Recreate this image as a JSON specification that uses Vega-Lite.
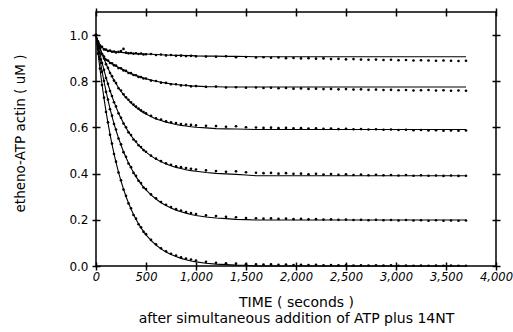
{
"$schema": "https://vega.github.io/schema/vega-lite/v6.json",
"width": 400, "height": 254, "autosize": "none",
"padding": {"left": 96, "top": 12, "right": 17, "bottom": 66},
"background": "white",
"config": {"view": {"stroke": "black", "strokeWidth": 1.5}, "font": "DejaVu Sans"},
"data": {"values": [
{"c":1,"t":0,"y":1.0,"f":1.0},{"c":1,"t":20,"y":0.972,"f":0.975},{"c":1,"t":40,"y":0.955,"f":0.958},{"c":1,"t":60,"y":0.949,"f":0.947},{"c":1,"t":80,"y":0.938,"f":0.94},{"c":1,"t":100,"y":0.937,"f":0.936},{"c":1,"t":120,"y":0.931,"f":0.933},{"c":1,"t":140,"y":0.933,"f":0.931},{"c":1,"t":160,"y":0.928,"f":0.929},{"c":1,"t":180,"y":0.929,"f":0.928},{"c":1,"t":200,"y":0.925,"f":0.927},{"c":1,"t":225,"y":0.927,"f":0.926},{"c":1,"t":250,"y":0.931,"f":0.925},{"c":1,"t":275,"y":0.94,"f":0.924},{"c":1,"t":300,"y":0.924,"f":0.923},{"c":1,"t":325,"y":0.921,"f":0.922},{"c":1,"t":350,"y":0.922,"f":0.921},{"c":1,"t":375,"y":0.919,"f":0.921},{"c":1,"t":400,"y":0.921,"f":0.92},{"c":1,"t":425,"y":0.918,"f":0.919},{"c":1,"t":450,"y":0.92,"f":0.919},{"c":1,"t":475,"y":0.916,"f":0.918},{"c":1,"t":500,"y":0.917,"f":0.918},{"c":1,"t":550,"y":0.918,"f":0.917},{"c":1,"t":600,"y":0.914,"f":0.916},{"c":1,"t":650,"y":0.916,"f":0.915},{"c":1,"t":700,"y":0.912,"f":0.914},{"c":1,"t":750,"y":0.914,"f":0.913},{"c":1,"t":800,"y":0.91,"f":0.912},{"c":1,"t":850,"y":0.911,"f":0.912},{"c":1,"t":900,"y":0.909,"f":0.911},{"c":1,"t":950,"y":0.91,"f":0.911},{"c":1,"t":1000,"y":0.908,"f":0.91},{"c":1,"t":1100,"y":0.907,"f":0.909},{"c":1,"t":1200,"y":0.906,"f":0.909},{"c":1,"t":1300,"y":0.908,"f":0.908},{"c":1,"t":1400,"y":0.904,"f":0.908},{"c":1,"t":1500,"y":0.905,"f":0.907},{"c":1,"t":1600,"y":0.903,"f":0.906},{"c":1,"t":1675,"y":0.904,"f":0.906},{"c":1,"t":1750,"y":0.902,"f":0.906},{"c":1,"t":1825,"y":0.903,"f":0.906},{"c":1,"t":1900,"y":0.9,"f":0.906},{"c":1,"t":1975,"y":0.901,"f":0.906},{"c":1,"t":2050,"y":0.899,"f":0.906},{"c":1,"t":2125,"y":0.9,"f":0.906},{"c":1,"t":2200,"y":0.898,"f":0.906},{"c":1,"t":2275,"y":0.899,"f":0.906},{"c":1,"t":2350,"y":0.896,"f":0.906},{"c":1,"t":2425,"y":0.897,"f":0.906},{"c":1,"t":2500,"y":0.895,"f":0.906},{"c":1,"t":2575,"y":0.896,"f":0.906},{"c":1,"t":2650,"y":0.894,"f":0.906},{"c":1,"t":2725,"y":0.893,"f":0.906},{"c":1,"t":2800,"y":0.894,"f":0.906},{"c":1,"t":2875,"y":0.892,"f":0.906},{"c":1,"t":2950,"y":0.893,"f":0.906},{"c":1,"t":3025,"y":0.891,"f":0.906},{"c":1,"t":3100,"y":0.892,"f":0.906},{"c":1,"t":3175,"y":0.89,"f":0.906},{"c":1,"t":3250,"y":0.891,"f":0.906},{"c":1,"t":3325,"y":0.89,"f":0.906},{"c":1,"t":3400,"y":0.889,"f":0.906},{"c":1,"t":3475,"y":0.89,"f":0.906},{"c":1,"t":3550,"y":0.889,"f":0.906},{"c":1,"t":3625,"y":0.888,"f":0.906},{"c":1,"t":3700,"y":0.889,"f":0.906},
{"c":2,"t":0,"y":1.0,"f":1.0},{"c":2,"t":20,"y":0.962,"f":0.965},{"c":2,"t":40,"y":0.943,"f":0.94},{"c":2,"t":60,"y":0.917,"f":0.92},{"c":2,"t":80,"y":0.907,"f":0.905},{"c":2,"t":100,"y":0.893,"f":0.895},{"c":2,"t":120,"y":0.89,"f":0.888},{"c":2,"t":140,"y":0.879,"f":0.882},{"c":2,"t":160,"y":0.878,"f":0.876},{"c":2,"t":180,"y":0.869,"f":0.871},{"c":2,"t":200,"y":0.868,"f":0.866},{"c":2,"t":225,"y":0.857,"f":0.86},{"c":2,"t":250,"y":0.856,"f":0.854},{"c":2,"t":275,"y":0.847,"f":0.849},{"c":2,"t":300,"y":0.845,"f":0.843},{"c":2,"t":325,"y":0.836,"f":0.838},{"c":2,"t":350,"y":0.835,"f":0.833},{"c":2,"t":375,"y":0.827,"f":0.829},{"c":2,"t":400,"y":0.826,"f":0.825},{"c":2,"t":425,"y":0.819,"f":0.821},{"c":2,"t":450,"y":0.818,"f":0.817},{"c":2,"t":475,"y":0.812,"f":0.814},{"c":2,"t":500,"y":0.812,"f":0.811},{"c":2,"t":550,"y":0.803,"f":0.805},{"c":2,"t":600,"y":0.801,"f":0.8},{"c":2,"t":650,"y":0.794,"f":0.796},{"c":2,"t":700,"y":0.793,"f":0.792},{"c":2,"t":750,"y":0.787,"f":0.789},{"c":2,"t":800,"y":0.787,"f":0.786},{"c":2,"t":850,"y":0.782,"f":0.784},{"c":2,"t":900,"y":0.783,"f":0.782},{"c":2,"t":950,"y":0.778,"f":0.78},{"c":2,"t":1000,"y":0.779,"f":0.779},{"c":2,"t":1100,"y":0.776,"f":0.777},{"c":2,"t":1200,"y":0.777,"f":0.776},{"c":2,"t":1300,"y":0.773,"f":0.775},{"c":2,"t":1400,"y":0.774,"f":0.775},{"c":2,"t":1500,"y":0.772,"f":0.775},{"c":2,"t":1600,"y":0.773,"f":0.775},{"c":2,"t":1675,"y":0.771,"f":0.775},{"c":2,"t":1750,"y":0.772,"f":0.775},{"c":2,"t":1825,"y":0.77,"f":0.775},{"c":2,"t":1900,"y":0.771,"f":0.775},{"c":2,"t":1975,"y":0.768,"f":0.775},{"c":2,"t":2050,"y":0.769,"f":0.775},{"c":2,"t":2125,"y":0.767,"f":0.775},{"c":2,"t":2200,"y":0.768,"f":0.775},{"c":2,"t":2275,"y":0.766,"f":0.775},{"c":2,"t":2350,"y":0.767,"f":0.775},{"c":2,"t":2425,"y":0.765,"f":0.775},{"c":2,"t":2500,"y":0.766,"f":0.775},{"c":2,"t":2575,"y":0.764,"f":0.775},{"c":2,"t":2650,"y":0.765,"f":0.775},{"c":2,"t":2725,"y":0.763,"f":0.775},{"c":2,"t":2800,"y":0.764,"f":0.775},{"c":2,"t":2875,"y":0.762,"f":0.775},{"c":2,"t":2950,"y":0.763,"f":0.775},{"c":2,"t":3025,"y":0.761,"f":0.775},{"c":2,"t":3100,"y":0.762,"f":0.775},{"c":2,"t":3175,"y":0.76,"f":0.775},{"c":2,"t":3250,"y":0.761,"f":0.775},{"c":2,"t":3325,"y":0.762,"f":0.775},{"c":2,"t":3400,"y":0.76,"f":0.775},{"c":2,"t":3475,"y":0.761,"f":0.775},{"c":2,"t":3550,"y":0.759,"f":0.775},{"c":2,"t":3625,"y":0.76,"f":0.775},{"c":2,"t":3700,"y":0.759,"f":0.775},
{"c":3,"t":0,"y":1.0,"f":1.0},{"c":3,"t":20,"y":0.97,"f":0.972},{"c":3,"t":40,"y":0.947,"f":0.945},{"c":3,"t":60,"y":0.918,"f":0.92},{"c":3,"t":80,"y":0.899,"f":0.897},{"c":3,"t":100,"y":0.874,"f":0.876},{"c":3,"t":120,"y":0.858,"f":0.856},{"c":3,"t":140,"y":0.836,"f":0.838},{"c":3,"t":160,"y":0.822,"f":0.82},{"c":3,"t":180,"y":0.803,"f":0.805},{"c":3,"t":200,"y":0.792,"f":0.79},{"c":3,"t":225,"y":0.77,"f":0.772},{"c":3,"t":250,"y":0.76,"f":0.757},{"c":3,"t":275,"y":0.744,"f":0.742},{"c":3,"t":300,"y":0.731,"f":0.729},{"c":3,"t":325,"y":0.72,"f":0.717},{"c":3,"t":350,"y":0.709,"f":0.706},{"c":3,"t":375,"y":0.699,"f":0.696},{"c":3,"t":400,"y":0.69,"f":0.687},{"c":3,"t":425,"y":0.682,"f":0.679},{"c":3,"t":450,"y":0.674,"f":0.671},{"c":3,"t":475,"y":0.667,"f":0.664},{"c":3,"t":500,"y":0.661,"f":0.658},{"c":3,"t":550,"y":0.65,"f":0.647},{"c":3,"t":600,"y":0.64,"f":0.637},{"c":3,"t":650,"y":0.634,"f":0.63},{"c":3,"t":700,"y":0.627,"f":0.623},{"c":3,"t":750,"y":0.622,"f":0.618},{"c":3,"t":800,"y":0.619,"f":0.613},{"c":3,"t":850,"y":0.615,"f":0.609},{"c":3,"t":900,"y":0.613,"f":0.606},{"c":3,"t":950,"y":0.611,"f":0.603},{"c":3,"t":1000,"y":0.609,"f":0.601},{"c":3,"t":1100,"y":0.607,"f":0.598},{"c":3,"t":1200,"y":0.606,"f":0.595},{"c":3,"t":1300,"y":0.603,"f":0.594},{"c":3,"t":1400,"y":0.605,"f":0.593},{"c":3,"t":1500,"y":0.601,"f":0.592},{"c":3,"t":1600,"y":0.6,"f":0.591},{"c":3,"t":1675,"y":0.598,"f":0.591},{"c":3,"t":1750,"y":0.599,"f":0.591},{"c":3,"t":1825,"y":0.597,"f":0.591},{"c":3,"t":1900,"y":0.598,"f":0.591},{"c":3,"t":1975,"y":0.596,"f":0.591},{"c":3,"t":2050,"y":0.597,"f":0.591},{"c":3,"t":2125,"y":0.595,"f":0.591},{"c":3,"t":2200,"y":0.596,"f":0.591},{"c":3,"t":2275,"y":0.594,"f":0.591},{"c":3,"t":2350,"y":0.595,"f":0.591},{"c":3,"t":2425,"y":0.593,"f":0.591},{"c":3,"t":2500,"y":0.594,"f":0.591},{"c":3,"t":2575,"y":0.592,"f":0.591},{"c":3,"t":2650,"y":0.593,"f":0.591},{"c":3,"t":2725,"y":0.591,"f":0.591},{"c":3,"t":2800,"y":0.592,"f":0.591},{"c":3,"t":2875,"y":0.59,"f":0.591},{"c":3,"t":2950,"y":0.591,"f":0.591},{"c":3,"t":3025,"y":0.589,"f":0.591},{"c":3,"t":3100,"y":0.59,"f":0.591},{"c":3,"t":3175,"y":0.588,"f":0.591},{"c":3,"t":3250,"y":0.589,"f":0.591},{"c":3,"t":3325,"y":0.587,"f":0.591},{"c":3,"t":3400,"y":0.588,"f":0.591},{"c":3,"t":3475,"y":0.586,"f":0.591},{"c":3,"t":3550,"y":0.587,"f":0.591},{"c":3,"t":3625,"y":0.586,"f":0.591},{"c":3,"t":3700,"y":0.587,"f":0.591},
{"c":4,"t":0,"y":1.0,"f":1.0},{"c":4,"t":20,"y":0.955,"f":0.958},{"c":4,"t":40,"y":0.921,"f":0.919},{"c":4,"t":60,"y":0.879,"f":0.882},{"c":4,"t":80,"y":0.85,"f":0.848},{"c":4,"t":100,"y":0.814,"f":0.817},{"c":4,"t":120,"y":0.789,"f":0.787},{"c":4,"t":140,"y":0.758,"f":0.76},{"c":4,"t":160,"y":0.736,"f":0.734},{"c":4,"t":180,"y":0.709,"f":0.711},{"c":4,"t":200,"y":0.691,"f":0.689},{"c":4,"t":225,"y":0.661,"f":0.663},{"c":4,"t":250,"y":0.642,"f":0.64},{"c":4,"t":275,"y":0.617,"f":0.619},{"c":4,"t":300,"y":0.601,"f":0.599},{"c":4,"t":325,"y":0.579,"f":0.581},{"c":4,"t":350,"y":0.567,"f":0.565},{"c":4,"t":375,"y":0.548,"f":0.55},{"c":4,"t":400,"y":0.539,"f":0.537},{"c":4,"t":425,"y":0.523,"f":0.524},{"c":4,"t":450,"y":0.515,"f":0.513},{"c":4,"t":475,"y":0.502,"f":0.503},{"c":4,"t":500,"y":0.495,"f":0.493},{"c":4,"t":550,"y":0.478,"f":0.477},{"c":4,"t":600,"y":0.465,"f":0.463},{"c":4,"t":650,"y":0.454,"f":0.452},{"c":4,"t":700,"y":0.445,"f":0.442},{"c":4,"t":750,"y":0.438,"f":0.434},{"c":4,"t":800,"y":0.432,"f":0.427},{"c":4,"t":850,"y":0.428,"f":0.422},{"c":4,"t":900,"y":0.424,"f":0.417},{"c":4,"t":950,"y":0.421,"f":0.413},{"c":4,"t":1000,"y":0.418,"f":0.41},{"c":4,"t":1100,"y":0.414,"f":0.405},{"c":4,"t":1200,"y":0.411,"f":0.401},{"c":4,"t":1300,"y":0.408,"f":0.399},{"c":4,"t":1400,"y":0.41,"f":0.397},{"c":4,"t":1500,"y":0.406,"f":0.394},{"c":4,"t":1600,"y":0.404,"f":0.391},{"c":4,"t":1675,"y":0.402,"f":0.391},{"c":4,"t":1750,"y":0.403,"f":0.391},{"c":4,"t":1825,"y":0.4,"f":0.391},{"c":4,"t":1900,"y":0.402,"f":0.391},{"c":4,"t":1975,"y":0.399,"f":0.391},{"c":4,"t":2050,"y":0.4,"f":0.391},{"c":4,"t":2125,"y":0.397,"f":0.391},{"c":4,"t":2200,"y":0.399,"f":0.391},{"c":4,"t":2275,"y":0.396,"f":0.391},{"c":4,"t":2350,"y":0.398,"f":0.391},{"c":4,"t":2425,"y":0.395,"f":0.391},{"c":4,"t":2500,"y":0.397,"f":0.391},{"c":4,"t":2575,"y":0.394,"f":0.391},{"c":4,"t":2650,"y":0.396,"f":0.391},{"c":4,"t":2725,"y":0.393,"f":0.391},{"c":4,"t":2800,"y":0.395,"f":0.391},{"c":4,"t":2875,"y":0.393,"f":0.391},{"c":4,"t":2950,"y":0.394,"f":0.391},{"c":4,"t":3025,"y":0.392,"f":0.391},{"c":4,"t":3100,"y":0.394,"f":0.391},{"c":4,"t":3175,"y":0.391,"f":0.391},{"c":4,"t":3250,"y":0.393,"f":0.391},{"c":4,"t":3325,"y":0.391,"f":0.391},{"c":4,"t":3400,"y":0.392,"f":0.391},{"c":4,"t":3475,"y":0.39,"f":0.391},{"c":4,"t":3550,"y":0.392,"f":0.391},{"c":4,"t":3625,"y":0.39,"f":0.391},{"c":4,"t":3700,"y":0.391,"f":0.391},
{"c":5,"t":0,"y":1.0,"f":1.0},{"c":5,"t":20,"y":0.941,"f":0.944},{"c":5,"t":40,"y":0.895,"f":0.892},{"c":5,"t":60,"y":0.841,"f":0.844},{"c":5,"t":80,"y":0.802,"f":0.799},{"c":5,"t":100,"y":0.754,"f":0.757},{"c":5,"t":120,"y":0.721,"f":0.718},{"c":5,"t":140,"y":0.679,"f":0.682},{"c":5,"t":160,"y":0.651,"f":0.648},{"c":5,"t":180,"y":0.615,"f":0.617},{"c":5,"t":200,"y":0.591,"f":0.588},{"c":5,"t":225,"y":0.552,"f":0.554},{"c":5,"t":250,"y":0.527,"f":0.524},{"c":5,"t":275,"y":0.493,"f":0.495},{"c":5,"t":300,"y":0.473,"f":0.47},{"c":5,"t":325,"y":0.444,"f":0.446},{"c":5,"t":350,"y":0.428,"f":0.425},{"c":5,"t":375,"y":0.403,"f":0.405},{"c":5,"t":400,"y":0.39,"f":0.387},{"c":5,"t":425,"y":0.369,"f":0.371},{"c":5,"t":450,"y":0.359,"f":0.356},{"c":5,"t":475,"y":0.34,"f":0.342},{"c":5,"t":500,"y":0.333,"f":0.33},{"c":5,"t":550,"y":0.31,"f":0.308},{"c":5,"t":600,"y":0.293,"f":0.29},{"c":5,"t":650,"y":0.277,"f":0.274},{"c":5,"t":700,"y":0.265,"f":0.262},{"c":5,"t":750,"y":0.255,"f":0.251},{"c":5,"t":800,"y":0.246,"f":0.242},{"c":5,"t":850,"y":0.24,"f":0.235},{"c":5,"t":900,"y":0.234,"f":0.229},{"c":5,"t":950,"y":0.229,"f":0.223},{"c":5,"t":1000,"y":0.225,"f":0.219},{"c":5,"t":1100,"y":0.219,"f":0.212},{"c":5,"t":1200,"y":0.216,"f":0.208},{"c":5,"t":1300,"y":0.213,"f":0.205},{"c":5,"t":1400,"y":0.211,"f":0.202},{"c":5,"t":1500,"y":0.208,"f":0.201},{"c":5,"t":1600,"y":0.207,"f":0.199},{"c":5,"t":1675,"y":0.205,"f":0.199},{"c":5,"t":1750,"y":0.206,"f":0.199},{"c":5,"t":1825,"y":0.204,"f":0.199},{"c":5,"t":1900,"y":0.205,"f":0.199},{"c":5,"t":1975,"y":0.203,"f":0.199},{"c":5,"t":2050,"y":0.204,"f":0.199},{"c":5,"t":2125,"y":0.202,"f":0.199},{"c":5,"t":2200,"y":0.203,"f":0.199},{"c":5,"t":2275,"y":0.201,"f":0.199},{"c":5,"t":2350,"y":0.202,"f":0.199},{"c":5,"t":2425,"y":0.2,"f":0.199},{"c":5,"t":2500,"y":0.201,"f":0.199},{"c":5,"t":2575,"y":0.199,"f":0.199},{"c":5,"t":2650,"y":0.2,"f":0.199},{"c":5,"t":2725,"y":0.198,"f":0.199},{"c":5,"t":2800,"y":0.2,"f":0.199},{"c":5,"t":2875,"y":0.198,"f":0.199},{"c":5,"t":2950,"y":0.199,"f":0.199},{"c":5,"t":3025,"y":0.197,"f":0.199},{"c":5,"t":3100,"y":0.199,"f":0.199},{"c":5,"t":3175,"y":0.197,"f":0.199},{"c":5,"t":3250,"y":0.198,"f":0.199},{"c":5,"t":3325,"y":0.196,"f":0.199},{"c":5,"t":3400,"y":0.198,"f":0.199},{"c":5,"t":3475,"y":0.196,"f":0.199},{"c":5,"t":3550,"y":0.197,"f":0.199},{"c":5,"t":3625,"y":0.196,"f":0.199},{"c":5,"t":3700,"y":0.197,"f":0.199},
{"c":6,"t":0,"y":1.0,"f":1.0},{"c":6,"t":20,"y":0.92,"f":0.923},{"c":6,"t":40,"y":0.855,"f":0.852},{"c":6,"t":60,"y":0.784,"f":0.787},{"c":6,"t":80,"y":0.729,"f":0.726},{"c":6,"t":100,"y":0.667,"f":0.67},{"c":6,"t":120,"y":0.622,"f":0.619},{"c":6,"t":140,"y":0.568,"f":0.571},{"c":6,"t":160,"y":0.53,"f":0.527},{"c":6,"t":180,"y":0.485,"f":0.487},{"c":6,"t":200,"y":0.452,"f":0.449},{"c":6,"t":225,"y":0.405,"f":0.407},{"c":6,"t":250,"y":0.371,"f":0.368},{"c":6,"t":275,"y":0.331,"f":0.333},{"c":6,"t":300,"y":0.304,"f":0.301},{"c":6,"t":325,"y":0.271,"f":0.273},{"c":6,"t":350,"y":0.25,"f":0.247},{"c":6,"t":375,"y":0.221,"f":0.223},{"c":6,"t":400,"y":0.205,"f":0.202},{"c":6,"t":425,"y":0.181,"f":0.183},{"c":6,"t":450,"y":0.168,"f":0.165},{"c":6,"t":475,"y":0.148,"f":0.15},{"c":6,"t":500,"y":0.138,"f":0.135},{"c":6,"t":550,"y":0.113,"f":0.111},{"c":6,"t":600,"y":0.094,"f":0.091},{"c":6,"t":650,"y":0.077,"f":0.074},{"c":6,"t":700,"y":0.064,"f":0.061},{"c":6,"t":750,"y":0.053,"f":0.05},{"c":6,"t":800,"y":0.045,"f":0.041},{"c":6,"t":850,"y":0.038,"f":0.033},{"c":6,"t":900,"y":0.032,"f":0.027},{"c":6,"t":950,"y":0.028,"f":0.022},{"c":6,"t":1000,"y":0.024,"f":0.018},{"c":6,"t":1100,"y":0.018,"f":0.012},{"c":6,"t":1200,"y":0.014,"f":0.008},{"c":6,"t":1300,"y":0.012,"f":0.006},{"c":6,"t":1400,"y":0.01,"f":0.004},{"c":6,"t":1500,"y":0.008,"f":0.003},{"c":6,"t":1600,"y":0.007,"f":0.0},{"c":6,"t":1675,"y":0.006,"f":0.0},{"c":6,"t":1750,"y":0.007,"f":0.0},{"c":6,"t":1825,"y":0.005,"f":0.0},{"c":6,"t":1900,"y":0.006,"f":0.0},{"c":6,"t":1975,"y":0.004,"f":0.0},{"c":6,"t":2050,"y":0.005,"f":0.0},{"c":6,"t":2125,"y":0.004,"f":0.0},{"c":6,"t":2200,"y":0.005,"f":0.0},{"c":6,"t":2275,"y":0.003,"f":0.0},{"c":6,"t":2350,"y":0.004,"f":0.0},{"c":6,"t":2425,"y":0.003,"f":0.0},{"c":6,"t":2500,"y":0.004,"f":0.0},{"c":6,"t":2575,"y":0.002,"f":0.0},{"c":6,"t":2650,"y":0.003,"f":0.0},{"c":6,"t":2725,"y":0.002,"f":0.0},{"c":6,"t":2800,"y":0.003,"f":0.0},{"c":6,"t":2875,"y":0.002,"f":0.0},{"c":6,"t":2950,"y":0.003,"f":0.0},{"c":6,"t":3025,"y":0.001,"f":0.0},{"c":6,"t":3100,"y":0.002,"f":0.0},{"c":6,"t":3175,"y":0.001,"f":0.0},{"c":6,"t":3250,"y":0.002,"f":0.0},{"c":6,"t":3325,"y":0.001,"f":0.0},{"c":6,"t":3400,"y":0.002,"f":0.0},{"c":6,"t":3475,"y":0.001,"f":0.0},{"c":6,"t":3550,"y":0.002,"f":0.0},{"c":6,"t":3625,"y":0.001,"f":0.0},{"c":6,"t":3700,"y":0.001,"f":0.0}
]},
"layer": [
{"mark": {"type": "line", "color": "black", "strokeWidth": 1.1},
 "encoding": {
  "x": {"field": "t", "type": "quantitative", "scale": {"domain": [0, 4000], "nice": false},
   "axis": {"orient": "bottom", "values": [0,500,1000,1500,2000,2500,3000,3500,4000], "format": ",.0f", "offset": -4, "tickSize": 8, "tickWidth": 1.5, "tickColor": "black", "domain": false, "grid": false,
    "labelFont": "DejaVu Sans", "labelFontStyle": "italic", "labelFontSize": 11.5, "labelColor": "black", "labelPadding": 1, "labelFlush": false, "labelOverlap": false,
    "title": ["TIME ( seconds )", "after simultaneous addition of ATP plus 14NT"], "titleFont": "DejaVu Sans", "titleFontSize": 14, "titleFontWeight": "normal", "titleColor": "black", "titlePadding": 13, "titleLineHeight": 16}},
  "y": {"field": "f", "type": "quantitative", "scale": {"domain": [0, 1.1], "nice": false},
   "axis": {"orient": "left", "values": [0,0.2,0.4,0.6,0.8,1.0], "format": ".1f", "offset": -4, "tickSize": 8, "tickWidth": 1.5, "tickColor": "black", "domain": false, "grid": false,
    "labelFont": "DejaVu Sans", "labelFontSize": 12, "labelColor": "black", "labelPadding": 4, "labelOverlap": false,
    "title": "etheno-ATP actin ( uM )", "titleFont": "DejaVu Sans", "titleFontSize": 13.5, "titleFontWeight": "normal", "titleColor": "black", "titleX": -80, "titleY": 121, "titleBaseline": "middle", "titleAngle": -90}},
  "detail": {"field": "c", "type": "nominal"}
 }},
{"mark": {"type": "circle", "color": "black", "size": 7, "opacity": 1},
 "encoding": {
  "x": {"field": "t", "type": "quantitative",
   "axis": {"orient": "top", "values": [0,500,1000,1500,2000,2500,3000,3500,4000], "offset": -4, "tickSize": 8, "tickWidth": 1.5, "tickColor": "black", "domain": false, "grid": false, "labels": false, "title": null}},
  "y": {"field": "y", "type": "quantitative",
   "axis": {"orient": "right", "values": [0,0.2,0.4,0.6,0.8,1.0], "offset": -4, "tickSize": 8, "tickWidth": 1.5, "tickColor": "black", "domain": false, "grid": false, "labels": false, "title": null}}
 }}
],
"resolve": {"axis": {"x": "independent", "y": "independent"}}
}
